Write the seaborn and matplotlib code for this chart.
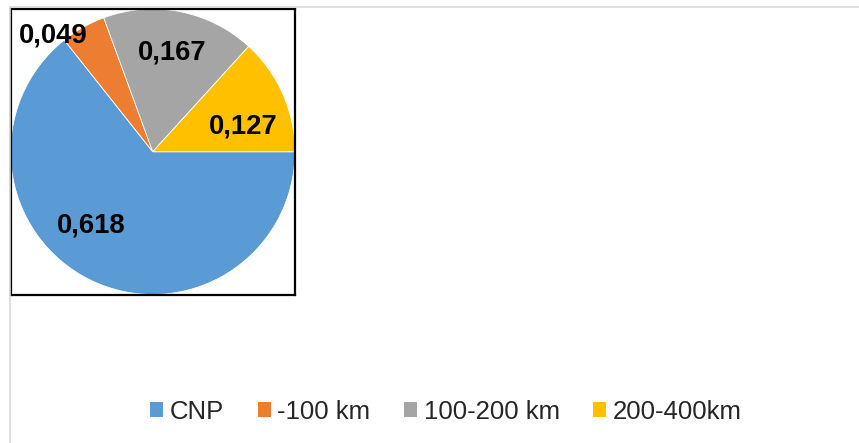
import matplotlib
matplotlib.use("Agg")

import matplotlib.pyplot as plt
import numpy as np
import seaborn as sns
from matplotlib.lines import Line2D
from matplotlib.patches import Patch

categories = ["CNP", "-100 km", "100-200 km", "200-400km"]
shares = [0.618, 0.049, 0.167, 0.127]
value_labels = ["0,618", "0,049", "0,167", "0,127"]

colors = sns.color_palette(["#5B9BD5", "#ED7D31", "#A5A5A5", "#FFC000"])

# Excel "best fit" label spots, as (radius, angle in degrees)
label_polar = [(0.71, 232.4), (1.035, 132.6), (0.658, 78.2), (0.651, 11.5)]

W, H = 859, 443

sns.set_style("white")
plt.rcParams["font.family"] = ["Liberation Sans", "DejaVu Sans"]

fig = plt.figure(figsize=(W / 100, H / 100), dpi=100)

# light outer chart-area frame
frame_kw = dict(color="#D9D9D9", linewidth=1.2, transform=fig.transFigure)
fig.add_artist(Line2D([10 / W, 1.0], [1 - 7 / H, 1 - 7 / H], **frame_kw))
fig.add_artist(Line2D([10 / W, 10 / W], [0.0, 1 - 7 / H], **frame_kw))

ax = fig.add_axes([10.5 / W, 1 - 294.5 / H, 284.5 / W, 285.5 / H])
ax.pie(
    shares,
    colors=colors,
    startangle=0,
    counterclock=False,
    normalize=True,
    frame=True,
    wedgeprops=dict(linewidth=0.6, edgecolor="white"),
)
ax.set_aspect("auto")
ax.set_xlim(-1.0, 1.0)
ax.set_ylim(-1.0, 1.0)
ax.set_xticks([])
ax.set_yticks([])
for sp in ax.spines.values():
    sp.set_visible(True)
    sp.set_color("black")
    sp.set_linewidth(1.6)

for txt, (r, ang) in zip(value_labels, label_polar):
    a = np.deg2rad(ang)
    ax.text(
        r * np.cos(a), r * np.sin(a), txt,
        ha="center", va="baseline",
        fontsize=19.8, fontweight="bold", color="black",
        clip_on=False, zorder=5,
    )

handles = [Patch(facecolor=c, edgecolor="none") for c in colors]
fig.legend(
    handles, categories,
    loc="center", bbox_to_anchor=(446 / W, 1 - 412 / H),
    ncol=4, frameon=False, fontsize=18.5,
    handlelength=0.52, handleheight=0.52,
    handletextpad=0.25, columnspacing=1.3,
)

fig.savefig("out.png", dpi=100)
plt.close(fig)
